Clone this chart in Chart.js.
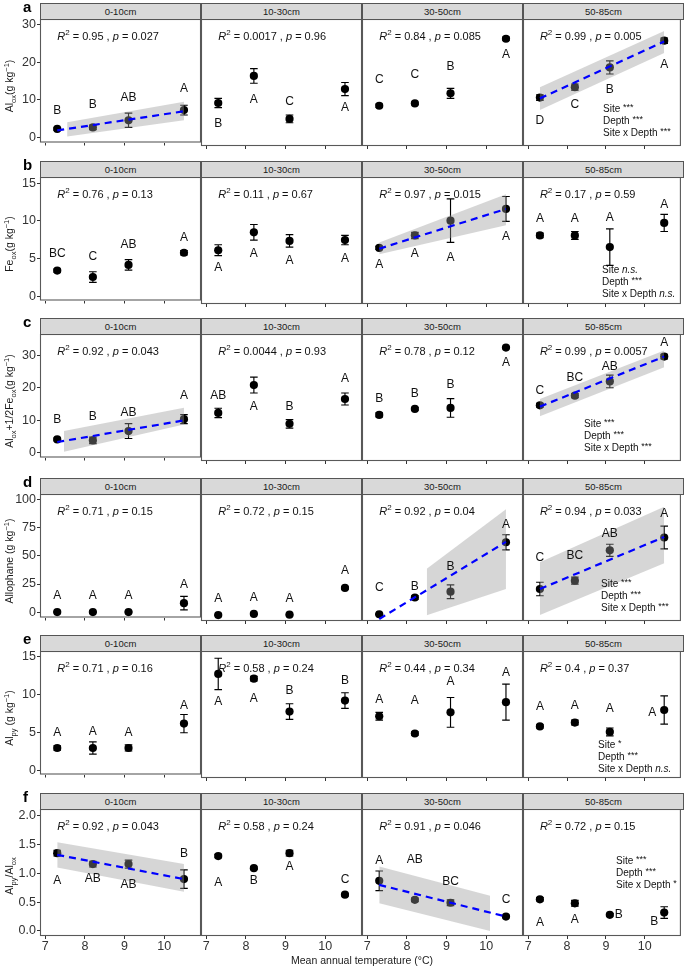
<!DOCTYPE html>
<html><head><meta charset="utf-8">
<script src="https://cdn.jsdelivr.net/npm/chart.js@4.4.1/dist/chart.umd.min.js"></script>
<style>
body{margin:0;background:#fff;width:685px;height:967px;overflow:hidden;position:relative;font-family:"Liberation Sans",Arial,Helvetica,sans-serif;}
canvas{position:absolute;}
.strip{position:absolute;background:#d9d9d9;border:1px solid #555;box-sizing:border-box;font-size:9.5px;color:#1a1a1a;text-align:center;line-height:15px;z-index:2;}
.plab{position:absolute;font-weight:bold;font-size:15px;line-height:15px;color:#000;z-index:3;}
.ytitle{position:absolute;white-space:nowrap;font-size:10.5px;color:#1a1a1a;transform:translate(-50%,-50%) rotate(-90deg);z-index:3;}
.ytitle sub,.ytitle sup{font-size:7.5px;line-height:0;}
.xtitle{position:absolute;white-space:nowrap;font-size:10.5px;color:#1a1a1a;transform:translate(-50%,-50%);}
</style></head><body>
<script>
// ---------------- DATA ----------------
const temps = [7.3, 8.2, 9.1, 10.5];
const depths = ['0-10cm', '10-30cm', '30-50cm', '50-85cm'];
const xTicks = [7, 8, 9, 10];

// a: Al_ox
const alOxMean = [[2.3,2.7,4.6,7.3],[9.8,16.8,5.7,13.4],[9.1,9.7,12.3,26.4],[11.2,13.9,19.0,25.9]];
const alOxSE   = [[0.3,0.6,1.9,1.3],[1.2,1.9,1.0,1.7],[0.4,0.3,1.3,0.4],[0.7,0.8,1.7,0.7]];
const alOxLetters = [['B','B','AB','A'],['B','A','C','A'],['C','C','B','A'],['D','C','B','A']];
const alOxR2 = [['0.95','0.027'],['0.0017','0.96'],['0.84','0.085'],['0.99','0.005']];
const alOxFit = [[1.9,7.0],null,null,[11.0,25.7]];
const alOxBand = [{x:[7.55,10.5],lo:[0.3,4.6],hi:[4.1,9.5]},null,null,{x:[7.3,10.5],lo:[8.0,22.7],hi:[13.9,28.4]}];
const alOxStats = [['Site','***'],['Depth','***'],['Site x Depth','***']];
const alOxTicks = [0,10,20,30];

// b: Fe_ox
const feOxMean = [[3.45,2.6,4.2,5.8],[6.4,8.7,7.6,7.7],[6.7,8.3,10.2,11.7],[8.3,8.3,6.8,9.9]];
const feOxSE   = [[0.2,0.7,0.7,0.3],[0.7,1.0,0.8,0.6],[0.2,0.4,2.8,1.6],[0.3,0.5,2.35,1.1]];
const feOxLetters = [['BC','C','AB','A'],['A','A','A','A'],['A','A','A','A'],['A','A','A','A']];
const feOxR2 = [['0.76','0.13'],['0.11','0.67'],['0.97','0.015'],['0.17','0.59']];
const feOxFit = [null,null,[6.6,11.7],null];
const feOxBand = [null,null,{x:[7.3,10.5],lo:[5.9,9.6],hi:[7.4,13.6]},null];
const feOxStats = [['Site','n.s.'],['Depth','***'],['Site x Depth','n.s.']];
const feOxTicks = [0,5,10,15];

// c: Al_ox + 1/2 Fe_ox
const sumOxMean = [[4.0,3.7,6.6,10.3],[12.9,21.3,9.6,17.1],[12.3,14.1,14.4,32.6],[15.2,18.1,22.4,29.9]];
const sumOxSE   = [[0.4,1.0,2.3,1.4],[1.4,2.4,1.3,1.8],[0.6,0.4,2.8,0.3],[0.6,0.6,1.9,0.7]];
const sumOxLetters = [['B','B','AB','A'],['AB','A','B','A'],['B','B','B','A'],['C','BC','AB','A']];
const sumOxR2 = [['0.92','0.043'],['0.0044','0.93'],['0.78','0.12'],['0.99','0.0057']];
const sumOxFit = [[3.2,9.9],null,null,[14.8,29.9]];
const sumOxBand = [{x:[7.47,10.5],lo:[0.2,8.6],hi:[6.6,13.8]},null,null,{x:[7.3,10.5],lo:[11.9,26.7],hi:[17.1,31.7]}];
const sumOxStats = [['Site','***'],['Depth','***'],['Site x Depth','***']];
const sumOxTicks = [0,10,20,30];

// d: Allophane
const alloMean = [[0.2,0.2,0.2,8.1],[0.5,1.5,0.8,23.8],[1.2,15.6,20.6,63.1],[22.9,30.1,56.2,67.2]];
const alloSE   = [[0.2,0.2,0.2,6.0],[0.3,0.5,0.4,1.0],[0.5,1.5,5.9,6.5],[5.8,3.0,5.2,9.8]];
const alloLetters = [['A','A','A','A'],['A','A','A','A'],['C','B','B','A'],['C','BC','AB','A']];
const alloR2 = [['0.71','0.15'],['0.72','0.15'],['0.92','0.04'],['0.94','0.033']];
const alloFit = [null,null,[-2.9,63.4],[22.9,67.7]];
const alloBand = [null,null,{x:[8.5,10.5],lo:[0.3,22.9],hi:[40.3,91.5]},{x:[7.3,10.5],lo:[0.6,45.1],hi:[46.0,93.7]}];
const alloStats = [['Site','***'],['Depth','***'],['Site x Depth','***']];
const alloTicks = [0,25,50,75,100];

// e: Al_py
const alPyMean = [[3.0,3.0,3.0,6.2],[12.8,12.2,8.0,9.4],[7.4,5.2,7.9,9.2],[6.1,6.6,5.4,8.2]];
const alPySE   = [[0.3,0.8,0.4,1.2],[2.0,0.3,1.0,1.0],[0.5,0.2,1.9,2.3],[0.2,0.3,0.5,1.8]];
const alPyLetters = [['A','A','A','A'],['A','A','B','B'],['A','A','A','A'],['A','A','A','A']];
const alPyR2 = [['0.71','0.16'],['0.58','0.24'],['0.44','0.34'],['0.4','0.37']];
const alPyFit = [null,null,null,null];
const alPyBand = [null,null,null,null];
const alPyStats = [['Site','*'],['Depth','***'],['Site x Depth','n.s.']];
const alPyTicks = [0,5,10,15];

// f: Al_py / Al_ox
const ratioMean = [[1.35,1.16,1.16,0.90],[1.30,1.09,1.35,0.63],[0.87,0.54,0.49,0.25],[0.55,0.48,0.28,0.32]];
const ratioSE   = [[0.05,0.05,0.07,0.16],[0.03,0.02,0.05,0.02],[0.17,0.03,0.05,0.02],[0.03,0.05,0.02,0.10]];
const ratioLetters = [['A','AB','AB','B'],['A','B','A','C'],['A','AB','BC','C'],['A','A','B','B']];
const ratioR2 = [['0.92','0.043'],['0.58','0.24'],['0.91','0.046'],['0.72','0.15']];
const ratioFit = [[1.32,0.90],null,[0.80,0.25],null];
const ratioBand = [{x:[7.3,10.5],lo:[1.10,0.68],hi:[1.54,1.16]},null,{x:[7.3,10.1],lo:[0.48,0.0],hi:[1.12,0.61]},null];
const ratioStats = [['Site','***'],['Depth','***'],['Site x Depth','*']];
const ratioTicks = [0,0.5,1.0,1.5,2.0];

// ---------------- LAYOUT / STYLE ----------------
const FONT = '"Liberation Sans", Arial, Helvetica, sans-serif';
const colX = [40, 201, 362, 523, 684];
const stripTop = [3, 161, 318, 478, 635, 793];
const STRIP_H = 16, PLOT_H = 127;
const X_RANGE = [6.865, 10.93];

// letter placement codes: aN = N px above error top, bN = N px below error bottom, "dx,dy" = offset from point
const letterPos = [
  [['a17','a20','a15','a17'],['b16','b16','a13','b12'],['a24','a28','a22','b14'],['b20','b14','b16','b21']],
  [['a15','a15','a15','a13'],['b12','b14','b14','b14'],['b15','b15','b15','b15'],['a14','a13','a11','a10']],
  [['a18','a20','a11','a19'],['a13','b14','a13','a14'],['a14','a14','a14','b14'],['a13','a16','a8','a12']],
  [['a16','a16','a16','a12'],['a16','a16','a16','a16'],['a26','a9','a18','a10'],['a25','a21','a11','a12']],
  [['a13','a10','a12','a9'],['b12','b18','a13','a12'],['a13','a31','a16','a11'],['a18','a14','a19','-12,3']],
  [['b25','b12','b17','a16'],['b25','b11','b11','a14'],['a10','0,-40','a18','a16'],['b22','b13','9,0','-10,9']]
];
const statsAnchor = [[80,90],[79,93],[61,90],[78,90],[75,94],[93,52]];

const rows = [
  {lab:'a', mean:alOxMean, se:alOxSE, letters:alOxLetters, r2:alOxR2, fit:alOxFit, band:alOxBand, stats:alOxStats, ticks:alOxTicks, range:[-1.3,31.5], dec:0,
   title:'Al<sub>ox</sub>(g kg<sup>−1</sup>)'},
  {lab:'b', mean:feOxMean, se:feOxSE, letters:feOxLetters, r2:feOxR2, fit:feOxFit, band:feOxBand, stats:feOxStats, ticks:feOxTicks, range:[-0.5,15.8], dec:0,
   title:'Fe<sub>ox</sub>(g kg<sup>−1</sup>)'},
  {lab:'c', mean:sumOxMean, se:sumOxSE, letters:sumOxLetters, r2:sumOxR2, fit:sumOxFit, band:sumOxBand, stats:sumOxStats, ticks:sumOxTicks, range:[-1.6,36.7], dec:0,
   title:'Al<sub>ox</sub>+1/2Fe<sub>ox</sub>(g kg<sup>−1</sup>)'},
  {lab:'d', mean:alloMean, se:alloSE, letters:alloLetters, r2:alloR2, fit:alloFit, band:alloBand, stats:alloStats, ticks:alloTicks, range:[-4.6,104.6], dec:0,
   title:'Allophane (g kg<sup>−1</sup>)'},
  {lab:'e', mean:alPyMean, se:alPySE, letters:alPyLetters, r2:alPyR2, fit:alPyFit, band:alPyBand, stats:alPyStats, ticks:alPyTicks, range:[-0.48,15.73], dec:0,
   title:'Al<sub>py</sub> (g kg<sup>−1</sup>)'},
  {lab:'f', mean:ratioMean, se:ratioSE, letters:ratioLetters, r2:ratioR2, fit:ratioFit, band:ratioBand, stats:ratioStats, ticks:ratioTicks, range:[-0.087,2.116], dec:1,
   title:'Al<sub>py</sub>/Al<sub>ox</sub>'}
];

function drawRuns(ctx, x, y, runs) {
  runs.forEach(r => {
    ctx.font = (r.it ? 'italic ' : '') + r.sz + 'px ' + FONT;
    ctx.fillText(r.t, x, y + (r.dy || 0));
    x += ctx.measureText(r.t).width;
  });
}

function makePlugin(row, r, c) {
  return {
    id: 'panel' + r + c,
    afterDatasetDraw(chart, args) {
      if (args.index !== 0) return;
      const xs = chart.scales.x, ys = chart.scales.y, ctx = chart.ctx;
      ctx.save();
      ctx.strokeStyle = '#000'; ctx.lineWidth = 1.15;
      temps.forEach((t, i) => {
        const m = row.mean[c][i], s = row.se[c][i];
        const px = xs.getPixelForValue(t);
        const y1 = ys.getPixelForValue(m + s), y2 = ys.getPixelForValue(m - s);
        ctx.beginPath();
        ctx.moveTo(px, y1); ctx.lineTo(px, y2);
        ctx.moveTo(px - 3.8, y1); ctx.lineTo(px + 3.8, y1);
        ctx.moveTo(px - 3.8, y2); ctx.lineTo(px + 3.8, y2);
        ctx.stroke();
      });
      ctx.restore();
    },
    afterDraw(chart) {
      const xs = chart.scales.x, ys = chart.scales.y, ctx = chart.ctx, a = chart.chartArea;
      ctx.save();
      // panel border
      ctx.strokeStyle = '#595959'; ctx.lineWidth = 1.1;
      ctx.strokeRect(a.left + 0.5, a.top + 0.5, a.right - a.left - 1, a.bottom - a.top - 1);
      ctx.fillStyle = '#111';
      ctx.textBaseline = 'middle';
      // R2 label
      const [r2, pv] = row.r2[c];
      ctx.textAlign = 'left';
      drawRuns(ctx, xs.getPixelForValue(temps[0]), a.top + 18, [
        {t:'R', it:true, sz:11}, {t:'2', sz:8, dy:-4.5}, {t:' =', sz:11}, {t:' ' + r2, sz:11},
        {t:' , ', sz:11}, {t:'p', it:true, sz:11}, {t:' =', sz:11}, {t:' ' + pv, sz:11}
      ]);
      // letters
      ctx.textAlign = 'center';
      ctx.font = '12px ' + FONT;
      temps.forEach((t, i) => {
        const m = row.mean[c][i], s = row.se[c][i];
        const code = letterPos[r][c][i];
        const px = xs.getPixelForValue(t), py = ys.getPixelForValue(m);
        let x = px, y;
        if (code.indexOf(',') >= 0) {
          const [dx, dy] = code.split(',').map(Number);
          x = px + dx; y = py + dy;
        } else {
          const n = code.length > 1 ? Number(code.slice(1)) : 16;
          y = code[0] === 'a' ? ys.getPixelForValue(m + s) - n : ys.getPixelForValue(m - s) + n;
        }
        ctx.fillText(row.letters[c][i], x, y);
      });
      // stats text (last column only)
      if (c === 3) {
        ctx.textAlign = 'left';
        const [ax, ay] = statsAnchor[r];
        row.stats.forEach((st, k) => {
          const ns = st[1] === 'n.s.';
          drawRuns(ctx, a.left + ax, a.top + ay + k * 12, [
            {t: st[0] + ' ', sz:10}, {t: st[1], sz: ns ? 10 : 9, it: ns, dy: ns ? 0 : -1.5}
          ]);
        });
      }
      ctx.restore();
    }
  };
}

function makePanel(r, c) {
  const row = rows[r];
  const plotTop = stripTop[r] + STRIP_H;
  const L = c === 0 ? 0 : colX[c] - 10;
  const R = Math.min(685, colX[c + 1] + 10);
  const padL = c === 0 ? 0 : 10;
  const padR = R - colX[c + 1];
  const bottomH = r === 5 ? 24 : 5;
  const T = plotTop - 10;
  const H = 10 + PLOT_H + bottomH;
  const cv = document.createElement('canvas');
  cv.width = R - L; cv.height = H;
  cv.style.left = L + 'px'; cv.style.top = T + 'px';
  cv.style.width = (R - L) + 'px'; cv.style.height = H + 'px';
  document.body.appendChild(cv);

  const datasets = [{
    type: 'scatter',
    data: temps.map((t, i) => ({x: t, y: row.mean[c][i]})),
    pointRadius: 4.1, pointBackgroundColor: '#000', pointBorderWidth: 0, order: 3
  }];
  const band = row.band[c];
  if (band) {
    datasets.push({type:'line', data: band.x.map((x, i) => ({x, y: band.lo[i]})), borderWidth:0, pointRadius:0, fill:false, order:2});
    datasets.push({type:'line', data: band.x.map((x, i) => ({x, y: band.hi[i]})), borderWidth:0, pointRadius:0, fill:'-1', backgroundColor:'rgba(153,153,153,0.4)', order:2});
  }
  const fit = row.fit[c];
  if (fit) {
    datasets.push({type:'line', data: [{x: temps[0], y: fit[0]}, {x: temps[3], y: fit[1]}], borderColor:'#0000ff', borderWidth:2.2, borderDash:[7,5], pointRadius:0, fill:false, order:1});
  }

  new Chart(cv, {
    type: 'scatter',
    data: {datasets},
    options: {
      responsive: false, animation: false, devicePixelRatio: 1,
      layout: {padding: {left: padL, right: padR, top: 10, bottom: 0}},
      plugins: {legend: {display: false}, tooltip: {enabled: false}},
      scales: {
        x: {
          type: 'linear', min: X_RANGE[0], max: X_RANGE[1],
          afterBuildTicks: s => { s.ticks = xTicks.map(v => ({value: v})); },
          afterFit: s => { s.height = bottomH; },
          grid: {drawOnChartArea: false, drawTicks: true, tickLength: 3, color: '#333', lineWidth: 1},
          border: {display: false},
          ticks: {display: r === 5, font: {size: 12.5, family: FONT}, color: '#333', padding: 0, maxRotation: 0, autoSkip: false}
        },
        y: {
          display: c === 0, type: 'linear', min: row.range[0], max: row.range[1],
          afterBuildTicks: s => { s.ticks = row.ticks.map(v => ({value: v})); },
          afterFit: s => { s.width = c === 0 ? 40 : 0; },
          grid: {drawOnChartArea: false, drawTicks: true, tickLength: 3, color: '#333', lineWidth: 1},
          border: {display: false},
          ticks: {font: {size: 12.5, family: FONT}, color: '#333', padding: 1,
                  callback: v => Number(v).toFixed(row.dec)}
        }
      }
    },
    plugins: [makePlugin(row, r, c)]
  });
}

for (let r = 0; r < 6; r++) {
  for (let c = 0; c < 4; c++) {
    makePanel(r, c);
    const d = document.createElement('div');
    d.className = 'strip';
    d.style.left = colX[c] + 'px'; d.style.top = stripTop[r] + 'px';
    d.style.width = (colX[c + 1] - colX[c]) + 'px'; d.style.height = (STRIP_H + 1) + 'px';
    d.textContent = depths[c];
    document.body.appendChild(d);
  }
  const pl = document.createElement('div');
  pl.className = 'plab';
  pl.style.left = '23px'; pl.style.top = (stripTop[r] - 4) + 'px';
  pl.textContent = rows[r].lab;
  document.body.appendChild(pl);
  const yt = document.createElement('div');
  yt.className = 'ytitle';
  yt.style.left = '9px'; yt.style.top = (stripTop[r] + STRIP_H + PLOT_H / 2 + 3) + 'px';
  yt.innerHTML = rows[r].title;
  document.body.appendChild(yt);
}
const xt = document.createElement('div');
xt.className = 'xtitle';
xt.style.left = '362px'; xt.style.top = '960px';
xt.textContent = 'Mean annual temperature (°C)';
document.body.appendChild(xt);
</script>
</body></html>
